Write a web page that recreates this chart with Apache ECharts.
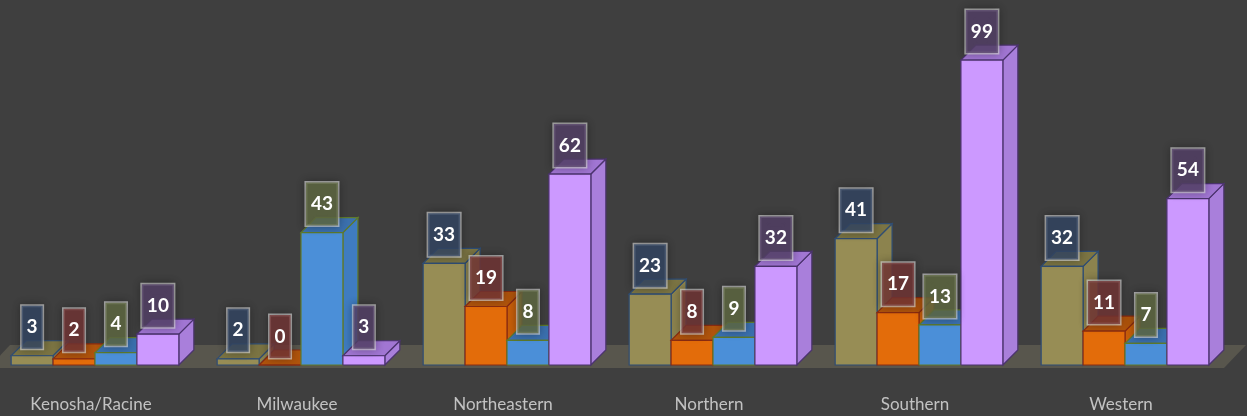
<!DOCTYPE html>
<html>
<head>
<meta charset="utf-8">
<script src="https://cdn.jsdelivr.net/npm/echarts@6/dist/echarts.min.js"></script>
<style>
  html, body { margin: 0; padding: 0; background: #3f3f3f; }
  #chart { width: 1247px; height: 416px; }
</style>
</head>
<body>
<div id="chart"></div>
<script>
const categories = ['Kenosha/Racine', 'Milwaukee', 'Northeastern', 'Northern', 'Southern', 'Western']
const olive = [3, 2, 33, 23, 41, 32]
const orange = [2, 0, 19, 8, 17, 11]
const blue = [4, 43, 8, 9, 13, 7]
const purple = [10, 3, 62, 32, 99, 54]

// depth of the fake 3d boxes
const DX = 15
const DY = -15

const looks = [
  { front: '#978d55', top: '#7b7443', side: '#8c834e', line: '#2f4d74', tag: 'rgba(52,72,102,0.78)' },
  { front: '#e36c0a', top: '#b0540d', side: '#c75f0a', line: '#8a2c12', tag: 'rgba(118,54,54,0.78)' },
  { front: '#4b8fd8', top: '#3b70ae', side: '#3f7cc0', line: '#5e7a2c', tag: 'rgba(98,108,68,0.8)' },
  { front: '#cc99ff', top: '#a176d3', side: '#a97fdb', line: '#4b336e', tag: 'rgba(86,66,106,0.8)' },
]

function barRenderer(idx) {
  const look = looks[idx]
  return function (params, api) {
    const cat = api.value(0)
    const val = api.value(1)
    const base = api.coord([cat, 0])
    const top = api.coord([cat, val])
    const bw = api.size([1, 0])[0] * 0.2035
    const x0 = base[0] - 2 * bw + idx * bw + 4
    const x1 = x0 + bw
    const yb = base[1]
    const yt = top[1]
    const edge = { stroke: look.line, lineWidth: 1.2 }
    return {
      type: 'group',
      children: [
        {
          type: 'polygon',
          shape: { points: [[x1, yb], [x1 + DX, yb + DY], [x1 + DX, yt + DY], [x1, yt]] },
          style: Object.assign({ fill: look.side }, edge),
        },
        {
          type: 'polygon',
          shape: { points: [[x0, yt], [x1, yt], [x1 + DX, yt + DY], [x0 + DX, yt + DY]] },
          style: Object.assign({ fill: look.top }, edge),
        },
        {
          type: 'rect',
          shape: { x: x0, y: yt, width: bw, height: yb - yt },
          style: Object.assign({ fill: look.front }, edge),
        },
        {
          type: 'text',
          z2: 100,
          x: (x0 + x1) / 2,
          y: yt - 7,
          style: {
            text: String(val),
            fill: '#fff',
            font: 'bold 19px Lato',
            align: 'center',
            verticalAlign: 'bottom',
            backgroundColor: look.tag,
            borderColor: 'rgba(225,225,225,0.65)',
            borderWidth: 1.5,
            padding: [12, 5, 12, 5],
            shadowBlur: 8,
            shadowColor: 'rgba(0,0,0,0.35)',
          },
        },
      ],
    }
  }
}

let myChart = echarts.init(document.getElementById('chart'))
const groups = [olive, orange, blue, purple]
let series = [
  {
    name: 'floor',
    type: 'custom',
    silent: true,
    data: [[0, 0]],
    renderItem: function (params, api) {
      const cs = params.coordSys
      const yb = cs.y + cs.height
      return {
        type: 'polygon',
        shape: {
          points: [
            [cs.x, yb + 3], [cs.x + cs.width, yb + 3],
            [cs.x + cs.width + 22, yb - 20], [cs.x + 22, yb - 20],
          ],
        },
        style: { fill: '#58564d' },
      }
    },
  },
]
groups.forEach((vals, i) => {
  series.push({
    name: 's' + i,
    type: 'custom',
    renderItem: barRenderer(i),
    data: vals.map((v, k) => [k, v]),
  })
})

let option = {
  backgroundColor: '#3f3f3f',
  animation: false,
  grid: { left: -12, right: 23, top: 57, bottom: 51, outerBoundsMode: 'none', containLabel: false },
  xAxis: {
    type: 'category',
    data: categories,
    axisLine: { show: false },
    axisTick: { show: false },
    axisLabel: {
      color: '#c2c2c2',
      fontSize: 17,
      fontFamily: 'Lato',
      margin: 31,
      interval: 0,
    },
  },
  yAxis: {
    type: 'value',
    min: 0,
    max: 100,
    show: false,
  },
  series: series,
}
myChart.setOption(option, true)
</script>
</body>
</html>
